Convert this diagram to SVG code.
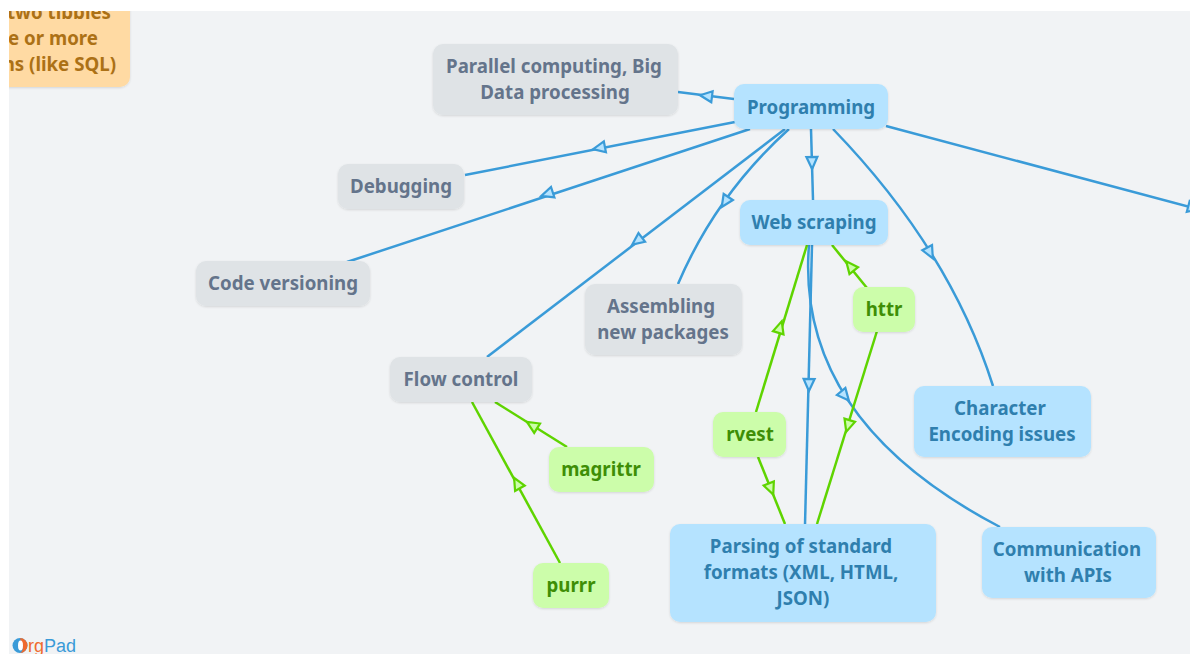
<svg xmlns="http://www.w3.org/2000/svg" width="1190" height="654" viewBox="0 0 1190 654">
<style>
text{font-family:"Noto Sans","Liberation Sans",sans-serif;font-weight:700;font-size:18.7px;text-anchor:middle}
.blue rect{fill:#b5e3ff}.blue text{fill:#2f7fae}
.gray rect{fill:#dfe3e6}.gray text{fill:#64748b}
.green rect{fill:#ccfdaa}.green text{fill:#3e8e06}
.orange rect{fill:#ffdaa3}.orange text{fill:#ac7116;text-anchor:end}
.cb{fill:none;stroke:#3a9bd8;stroke-width:2.5}
.cg{fill:none;stroke:#5fd400;stroke-width:2.5}
.ab{fill:#b5e3ff;stroke:#3a9bd8;stroke-width:2.2}
.ag{fill:#ccfdaa;stroke:#5fd400;stroke-width:2.2}
</style>
<defs>
<polygon id="ah" points="-6,-5.500 6,0 -6,5.500"/>
<clipPath id="page"><rect x="9" y="11" width="1181" height="643"/></clipPath>
<filter id="sh" x="-5%" y="-5%" width="110%" height="115%"><feDropShadow dx="0" dy="1" stdDeviation="1" flood-color="#000" flood-opacity=".12"/></filter>
</defs>
<rect width="1190" height="654" fill="#fff"/>
<rect x="9" y="11" width="1181" height="643" fill="#f1f3f5"/>
<g id="connectors" clip-path="url(#page)">
<path class="cb" d="M734 99L678 92"/>
<path class="cb" d="M735 122L465 175"/>
<path class="cb" d="M750 129L347 262"/>
<path class="cb" d="M785 129L487 357"/>
<path class="cb" d="M789 129Q716 195 678 284"/>
<path class="cb" d="M811 129L813 200"/>
<path class="cb" d="M833 129Q950 250 993 386"/>
<path class="cb" d="M886 126L1190 207"/>
<path class="cb" d="M812 245L805 525"/>
<path class="cb" d="M809 245Q795 420 1000 527"/>
<path class="cg" d="M756 412L807 245"/>
<path class="cg" d="M758 457L785 524"/>
<path class="cg" d="M867 288L832 245"/>
<path class="cg" d="M877 331L817 524"/>
<path class="cg" d="M567 447L495 402"/>
<path class="cg" d="M560 563L472 402"/>
<use href="#ah" class="ab" transform="translate(706,96) rotate(187)"/>
<use href="#ah" class="ab" transform="translate(599,148) rotate(169)"/>
<use href="#ah" class="ab" transform="translate(547,194) rotate(162)"/>
<use href="#ah" class="ab" transform="translate(637,241) rotate(143)"/>
<use href="#ah" class="ab" transform="translate(725,202) rotate(123)"/>
<use href="#ah" class="ab" transform="translate(812,163) rotate(89)"/>
<use href="#ah" class="ab" transform="translate(930,253) rotate(62)"/>
<use href="#ah" class="ab" transform="translate(809,385) rotate(91)"/>
<use href="#ah" class="ab" transform="translate(845,396) rotate(50)"/>
<use href="#ah" class="ab" transform="translate(1194,208) rotate(15)"/>
<use href="#ah" class="ag" transform="translate(780,327) rotate(-73)"/>
<use href="#ah" class="ag" transform="translate(771,489) rotate(68)"/>
<use href="#ah" class="ag" transform="translate(850,266) rotate(231)"/>
<use href="#ah" class="ag" transform="translate(848,426) rotate(107)"/>
<use href="#ah" class="ag" transform="translate(532,425) rotate(212)"/>
<use href="#ah" class="ag" transform="translate(517,483) rotate(241)"/>
</g>
<g id="node-join" class="orange" clip-path="url(#page)"><rect x="-20" y="-20" width="150" height="107" rx="10" filter="url(#sh)"/><text x="111" y="19">two tibbles</text><text x="98" y="45">e or more</text><text x="116" y="71">ns (like SQL)</text></g>
<g id="node-parallel" class="gray"><rect x="433" y="44" width="245" height="71" rx="10" filter="url(#sh)"/><text x="554" y="73">Parallel computing, Big</text><text x="555" y="99">Data processing</text></g>
<g id="node-programming" class="blue"><rect x="734" y="84" width="154" height="45" rx="10" filter="url(#sh)"/><text x="811" y="114">Programming</text></g>
<g id="node-debugging" class="gray"><rect x="338" y="164" width="126" height="45" rx="10" filter="url(#sh)"/><text x="401" y="193">Debugging</text></g>
<g id="node-versioning" class="gray"><rect x="196" y="261" width="174" height="45" rx="10" filter="url(#sh)"/><text x="283" y="290">Code versioning</text></g>
<g id="node-webscraping" class="blue"><rect x="740" y="200" width="148" height="45" rx="10" filter="url(#sh)"/><text x="814" y="229">Web scraping</text></g>
<g id="node-assembling" class="gray"><rect x="585" y="284" width="157" height="71" rx="10" filter="url(#sh)"/><text x="661" y="313">Assembling</text><text x="663" y="339">new packages</text></g>
<g id="node-httr" class="green"><rect x="853" y="287" width="62" height="45" rx="10" filter="url(#sh)"/><text x="884" y="316">httr</text></g>
<g id="node-flow" class="gray"><rect x="390" y="357" width="142" height="45" rx="10" filter="url(#sh)"/><text x="461" y="386">Flow control</text></g>
<g id="node-encoding" class="blue"><rect x="914" y="386" width="177" height="71" rx="10" filter="url(#sh)"/><text x="1000" y="415">Character</text><text x="1002" y="441">Encoding issues</text></g>
<g id="node-rvest" class="green"><rect x="713" y="412" width="73" height="45" rx="10" filter="url(#sh)"/><text x="750" y="441">rvest</text></g>
<g id="node-magrittr" class="green"><rect x="549" y="447" width="105" height="45" rx="10" filter="url(#sh)"/><text x="601" y="476">magrittr</text></g>
<g id="node-parsing" class="blue"><rect x="670" y="524" width="266" height="98" rx="10" filter="url(#sh)"/><text x="801" y="553">Parsing of standard</text><text x="801" y="579">formats (XML, HTML,</text><text x="803" y="605">JSON)</text></g>
<g id="node-apis" class="blue"><rect x="982" y="527" width="174" height="71" rx="10" filter="url(#sh)"/><text x="1067" y="556">Communication</text><text x="1068" y="582">with APIs</text></g>
<g id="node-purrr" class="green"><rect x="533" y="563" width="76" height="45" rx="10" filter="url(#sh)"/><text x="571" y="592">purrr</text></g>
<g id="logo">
<circle cx="20" cy="645.500" r="7.500" fill="#3a9bd8"/><path d="M20 638a7.500 7.500 0 0 1 0 15c3-2 3-4 2-7s-1-5-2-8z" fill="#ef6a2d"/><ellipse cx="20.500" cy="645.500" rx="2.500" ry="5" fill="#fff"/>
<text x="28" y="652" style="font-family:'Liberation Sans',sans-serif;font-size:18px;text-anchor:start;font-weight:400"><tspan fill="#ef6a2d">rg</tspan><tspan fill="#3a9bd8">Pad</tspan></text>
</g>
</svg>
